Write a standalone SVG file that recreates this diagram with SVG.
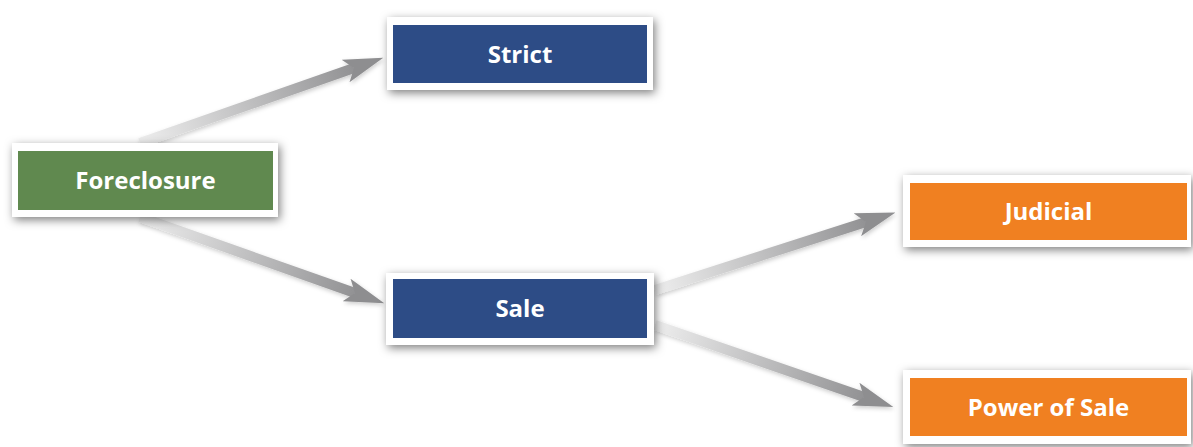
<svg xmlns="http://www.w3.org/2000/svg" xmlns:xlink="http://www.w3.org/1999/xlink" width="1193" height="447" viewBox="0 0 1193 447">
  <style>
    .frame { fill: #ffffff; }
    .green { fill: #60894f; }
    .blue { fill: #2d4c86; }
    .orange { fill: #f08021; }
    .label { font-family: "Open Sans", "Liberation Sans", sans-serif; font-weight: bold; font-size: 24px; fill: #ffffff; text-anchor: middle; dominant-baseline: central; }
    .shaft { stroke-width: 10; fill: none; stroke-linecap: butt; }
  </style>
  <defs>
    <filter id="shadow" x="-10%" y="-40%" width="125%" height="190%">
      <feDropShadow dx="2" dy="3" stdDeviation="5" flood-color="#000000" flood-opacity="0.5"/>
    </filter>
    <filter id="ashadow" x="-10%" y="-30%" width="125%" height="170%">
      <feDropShadow dx="1" dy="2" stdDeviation="2" flood-color="#000000" flood-opacity="0.2"/>
    </filter>
    <linearGradient id="g" gradientUnits="userSpaceOnUse">
      <stop offset="0" stop-color="#eeeeee"/>
      <stop offset="1" stop-color="#929294"/>
    </linearGradient>
    <linearGradient id="g1" xlink:href="#g" x1="140" y1="143" x2="354" y2="68"/>
    <linearGradient id="g2" xlink:href="#g" x1="140" y1="217" x2="355" y2="293"/>
    <linearGradient id="g3" xlink:href="#g" x1="655" y1="290" x2="866" y2="222"/>
    <linearGradient id="g4" xlink:href="#g" x1="655" y1="325" x2="864" y2="397"/>
    <marker id="head" viewBox="0 0 40 24" refX="9" refY="12" markerWidth="40" markerHeight="24" markerUnits="userSpaceOnUse" orient="auto">
      <path d="M0,0 L40,12 L0,24 L9,12 Z" fill="#8e8e90"/>
    </marker>
  </defs>
  <rect width="1193" height="447" fill="#ffffff"/>
  <g id="connectors" filter="url(#ashadow)">
    <line class="shaft" x1="140" y1="143" x2="354" y2="68" stroke="url(#g1)" marker-end="url(#head)"/>
    <line class="shaft" x1="140" y1="217" x2="355" y2="293" stroke="url(#g2)" marker-end="url(#head)"/>
    <line class="shaft" x1="655" y1="290" x2="866" y2="222" stroke="url(#g3)" marker-end="url(#head)"/>
    <line class="shaft" x1="655" y1="325" x2="864" y2="397" stroke="url(#g4)" marker-end="url(#head)"/>
  </g>
  <g id="foreclosure">
    <rect class="frame" x="12" y="143" width="266" height="74" filter="url(#shadow)"/>
    <rect class="green" x="18" y="151" width="255" height="59"/>
    <text class="label" x="145.5" y="179.5">Foreclosure</text>
  </g>
  <g id="strict">
    <rect class="frame" x="387" y="17" width="266" height="73" filter="url(#shadow)"/>
    <rect class="blue" x="393" y="25" width="254" height="58"/>
    <text class="label" x="520" y="53">Strict</text>
  </g>
  <g id="sale">
    <rect class="frame" x="386" y="273" width="268" height="72" filter="url(#shadow)"/>
    <rect class="blue" x="393" y="279" width="254" height="59"/>
    <text class="label" x="520" y="307.5">Sale</text>
  </g>
  <g id="judicial">
    <rect class="frame" x="903" y="175" width="288" height="72" filter="url(#shadow)"/>
    <rect class="orange" x="910" y="183" width="277" height="57"/>
    <text class="label" x="1048.5" y="210.5">Judicial</text>
  </g>
  <g id="power-of-sale">
    <rect class="frame" x="903" y="370" width="288" height="74" filter="url(#shadow)"/>
    <rect class="orange" x="910" y="378" width="277" height="58"/>
    <text class="label" x="1048.5" y="406">Power of Sale</text>
  </g>
</svg>
